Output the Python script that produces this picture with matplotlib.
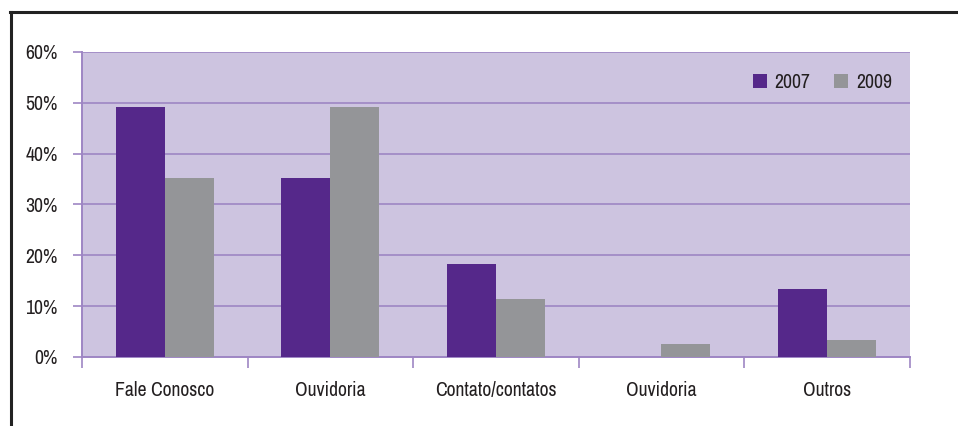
import numpy as np
import matplotlib.pyplot as plt
from matplotlib.lines import Line2D
from matplotlib.ticker import FixedLocator, NullFormatter
from matplotlib import font_manager

# fonte estreita, se houver alguma instalada
nomes = sorted({f.name for f in font_manager.fontManager.ttflist})
condensadas = [n for n in nomes if "Narrow" in n or "Condensed" in n]
fam = condensadas[0] if condensadas else "DejaVu Sans"
plt.rcParams['font.family'] = [fam, 'DejaVu Sans']
plt.rcParams['font.stretch'] = 'condensed'

canais = ["Fale Conosco", "Ouvidoria", "Contato/contatos", "Ouvidoria", "Outros"]
anos = ["2007", "2009"]
v2007 = [49.2, 35.2, 18.3, 0.0, 13.4]
v2009 = [35.2, 49.2, 11.4, 2.6, 3.3]

roxo = "#55288a"
cinza = "#949598"
fundo = "#cdc4e0"
grade = "#9e86c4"
texto = "#231f20"
fs = 14.2

fig = plt.figure(figsize=(9.58, 4.26), dpi=100)
ax = fig.add_axes([0.0856, 0.162, 0.864, 0.716])
ax.set_facecolor(fundo)

x = np.arange(len(canais))
w = 0.295
ax.bar(x - w / 2, v2007, w, color=roxo, label=anos[0], zorder=3)
ax.bar(x + w / 2, v2009, w, color=cinza, label=anos[1], zorder=3)

ax.set_xlim(-0.5, len(canais) - 0.5)
ax.set_ylim(0, 60)
ax.set_yticks(range(0, 61, 10))
ax.set_yticklabels([f"{v}%" for v in range(0, 61, 10)])
ax.yaxis.grid(True, color=grade, linewidth=1.2, zorder=1)

ax.set_xticks(x)
ax.set_xticklabels(canais)
ax.tick_params(axis="x", length=0, pad=17, labelsize=fs, colors=texto)
ax.xaxis.set_minor_locator(FixedLocator(np.arange(-0.5, len(canais), 1.0)))
ax.xaxis.set_minor_formatter(NullFormatter())
ax.tick_params(axis="x", which="minor", length=8, color=grade, width=1.2)
ax.tick_params(axis="y", length=6.5, color=grade, width=1.2, pad=11,
               labelsize=fs, labelcolor=texto)

for s in ["top", "right"]:
    ax.spines[s].set_visible(False)
for s in ["left", "bottom"]:
    ax.spines[s].set_color(grade)
    ax.spines[s].set_linewidth(1.4)

ax.legend(loc="upper right", bbox_to_anchor=(1.0, 0.99), ncol=2, frameon=False,
          handlelength=0.7, handleheight=0.7, handletextpad=0.4, columnspacing=1.2,
          fontsize=fs, labelcolor=texto)

# moldura preta à esquerda e no topo
fig.add_artist(Line2D([0.0115, 0.0115], [0.0, 0.972], color="#222222", lw=2.2,
                      transform=fig.transFigure))
fig.add_artist(Line2D([0.0105, 1.0], [0.972, 0.972], color="#222222", lw=2.2,
                      transform=fig.transFigure))

fig.savefig("out.png", dpi=100)
